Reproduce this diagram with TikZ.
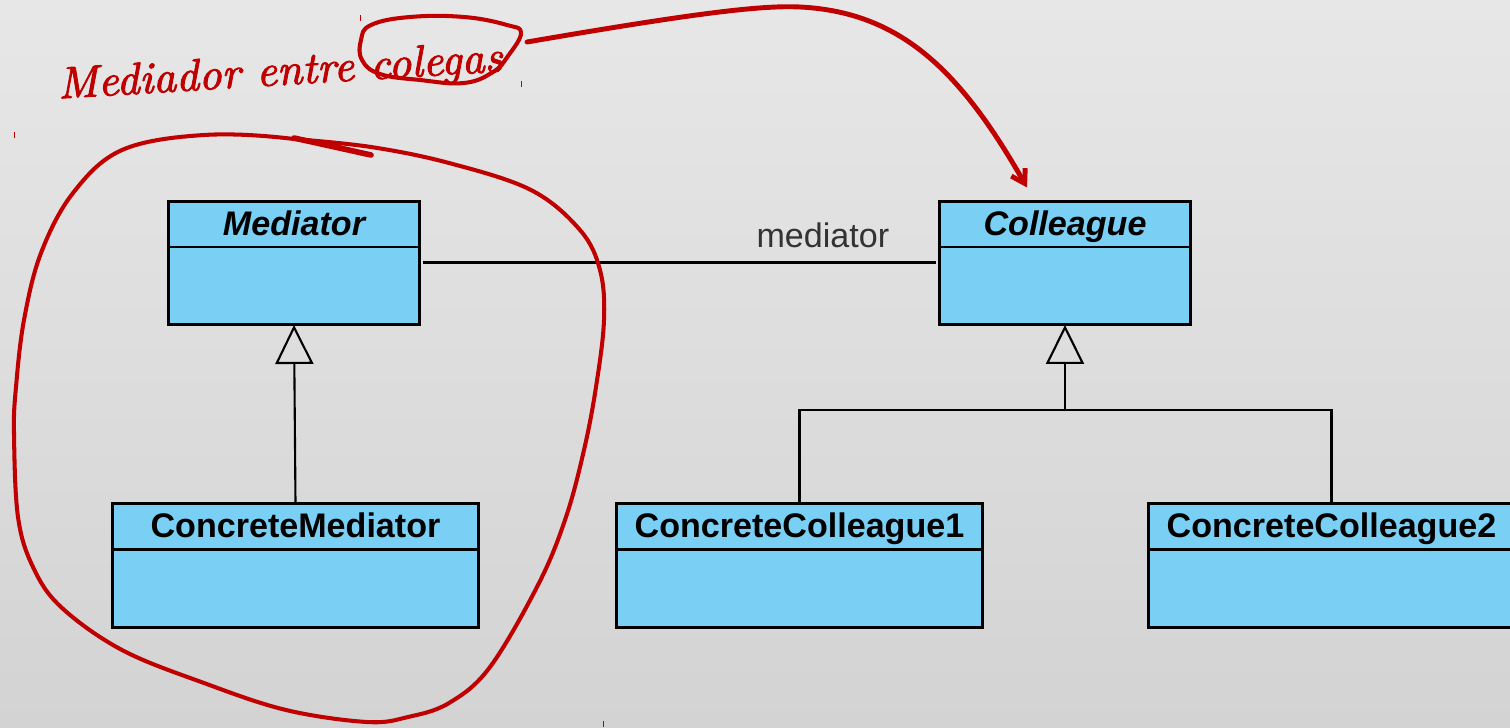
\documentclass[tikz,border=0pt]{standalone}
\usepackage{fontspec}
\newfontfamily\umlfont{Liberation Sans}
\newfontfamily\handfont{lmroman10-italic.otf}[FakeBold=2]
\usetikzlibrary{
    arrows.meta,
    positioning
}
\definecolor{umlblue}{RGB}{122,207,244}
\definecolor{inkred}{RGB}{192,0,0}
\definecolor{bgtop}{RGB}{231,231,231}
\definecolor{bgbottom}{RGB}{211,211,211}
\tikzset{
    classhead/.style={draw, line width=1.7pt, fill=umlblue, outer sep=0pt, inner sep=0pt,
        minimum height=0.92cm, text height=0.52cm, text depth=0.08cm,
        font=\umlfont\bfseries\fontsize{19.4}{22}\selectfont},
    classbody/.style={draw, line width=1.7pt, fill=umlblue, outer sep=0pt, inner sep=0pt,
        minimum height=1.56cm},
    assoc/.style={line width=1.7pt},
    tree/.style={line width=1.2pt},
    generalize/.style={line width=1.2pt, -{Triangle[open, length=0.78cm, width=0.76cm]}},
    ink/.style={inkred, line width=2.3pt, line cap=round, line join=round},
    handnote/.style={inkred, font=\handfont\fontsize{25.5}{30}\selectfont, inner sep=0pt}
}

\begin{document}
\begin{tikzpicture}[x=0.02cm, y=-0.02cm]
    \useasboundingbox (0,0) rectangle (1510,727);
    \clip (0,0) rectangle (1510,727);
    \shade[top color=bgtop, bottom color=bgbottom] (0,0) rectangle (1510,727);

    % classes
    \node[classhead, minimum width=5.02cm] (mediator) at (294,224) {\itshape Mediator};
    \node[classbody, minimum width=5.02cm, below=0pt of mediator] (mediator-body) {};
    \node[classhead, minimum width=5.02cm] (colleague) at (1065,224) {\itshape Colleague};
    \node[classbody, minimum width=5.02cm, below=0pt of colleague] (colleague-body) {};
    \node[classhead, minimum width=7.32cm] (cmediator) at (295.5,526.5) {ConcreteMediator};
    \node[classbody, minimum width=7.32cm, below=0pt of cmediator] (cmediator-body) {};
    \node[classhead, minimum width=7.32cm] (ccolleague1) at (799.5,526.5) {ConcreteColleague1};
    \node[classbody, minimum width=7.32cm, below=0pt of ccolleague1] (ccolleague1-body) {};
    \node[classhead, minimum width=7.32cm] (ccolleague2) at (1331.5,526.5) {ConcreteColleague2};
    \node[classbody, minimum width=7.32cm, below=0pt of ccolleague2] (ccolleague2-body) {};

    % relations
    \draw[assoc] ([shift={(0.08cm,-0.31cm)}]mediator-body.north east)
        -- node[pos=0.78, anchor=base, yshift=0.3cm, text=black!80,
                font=\umlfont\fontsize{19.4}{22}\selectfont] (role) {mediator}
        ([shift={(-0.08cm,-0.31cm)}]colleague-body.north west);
    \draw[generalize] (cmediator.north) -- (mediator-body.south);
    \coordinate (fork) at (1065,410);
    \draw[generalize] (fork) -- (colleague-body.south);
    \draw[tree] (ccolleague1.north) |- (fork) -| (ccolleague2.north);

    % hand notes
    \node[handnote, rotate=3.5, anchor=base] (note) at (281,85) {Mediador entre colegas};
    \draw[ink] plot[smooth cycle, tension=0.7] coordinates {
        (371,25) (361,40) (362,60) (380,74) (420,80) (464,83) (493,72) (508,56)
        (521,33) (507,25) (464,17) (410,17)};
    \coordinate (ring-end) at (527,42);
    \draw[ink, line width=2.8pt, -{Straight Barb[length=0.26cm, width=0.32cm]}] (ring-end)
        .. controls (690,14) and (760,5) .. (800,7)
        .. controls (900,12) and (960,70) .. ([shift={(-0.76cm,0.27cm)}]colleague.north);
    \draw[ink] plot[smooth, tension=0.6] coordinates {
        (294,139) (371,147) (449,163) (531,190) (580,230) (600,270) (604,320)
        (596,387) (584,450) (566,517) (539,583) (490,667) (449,703) (408,717)
        (367,722) (286,710) (204,683) (122,650) (61,607) (33,567) (18,517)
        (14,433) (16,387) (24,320) (41,253) (73,193) (122,150) (204,135)
        (294,139) (371,155)};
    \draw[ink, line width=3.2pt] (294,138) -- (371,155);

    % selection ticks
    \draw[inkred, line width=0.5pt] (14,132) -- (14,138) (360,15) -- (360,21)
        (521,81) -- (521,87) (603,721) -- (603,727);
\end{tikzpicture}
\end{document}
